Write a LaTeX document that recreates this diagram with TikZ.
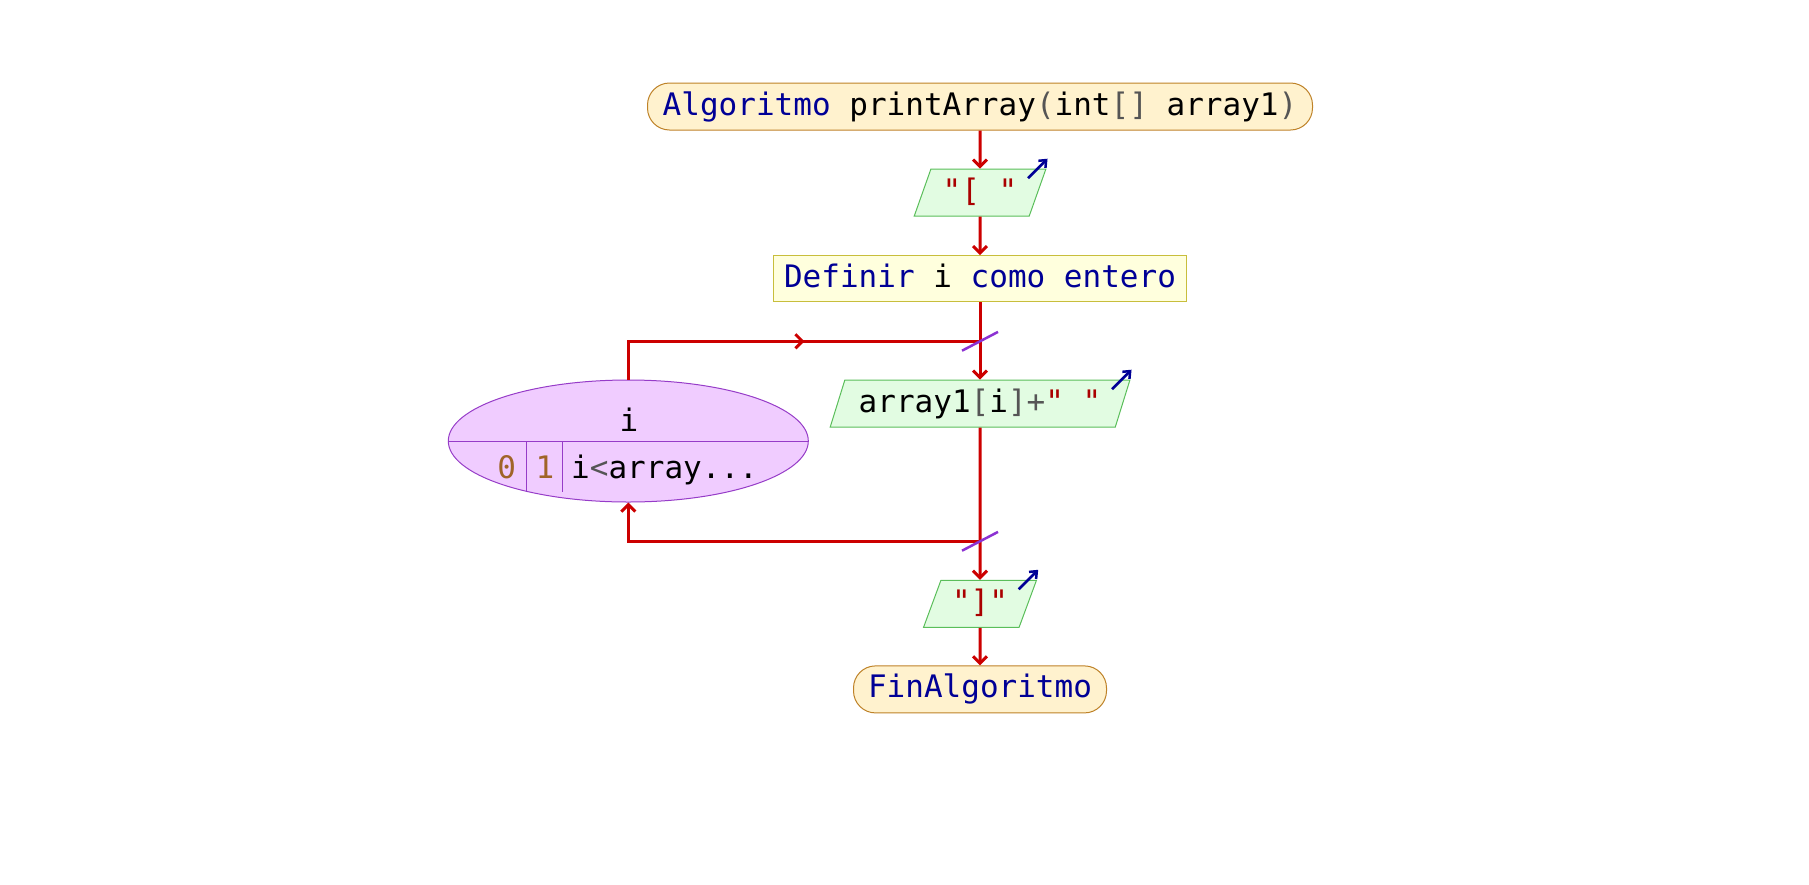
\documentclass[tikz,border=0pt]{standalone}
\usepackage{fontspec}
\setmonofont{DejaVu Sans Mono}
\usetikzlibrary{shapes.geometric,arrows.meta,decorations.markings,calc}

\definecolor{flowred}{RGB}{204,0,0}
\definecolor{termfill}{RGB}{255,242,206}
\definecolor{termline}{RGB}{190,130,40}
\definecolor{outfill}{RGB}{226,252,226}
\definecolor{outline}{RGB}{90,190,90}
\definecolor{deffill}{RGB}{255,255,221}
\definecolor{defline}{RGB}{200,190,60}
\definecolor{loopfill}{RGB}{240,204,255}
\definecolor{loopline}{RGB}{150,60,200}
\definecolor{crosscol}{RGB}{140,50,210}
\definecolor{kwblue}{RGB}{0,0,150}
\definecolor{strred}{RGB}{170,0,0}
\definecolor{opgray}{RGB}{85,85,85}
\definecolor{numbrown}{RGB}{160,100,40}

\newcommand{\kwd}[1]{\textcolor{kwblue}{#1}}
\newcommand{\strg}[1]{\textcolor{strred}{#1}}
\newcommand{\oper}[1]{\textcolor{opgray}{#1}}
\newcommand{\numb}[1]{\textcolor{numbrown}{#1}}

\begin{document}
\begin{tikzpicture}[x=1pt,y=-1pt,
  every node/.style={font=\ttfamily\fontsize{31}{37}\selectfont, text height=23pt, text depth=6pt},
  >={Straight Barb[length=7pt,width=14pt]},
  flow/.style={draw=flowred, line width=3pt},
  term/.style={draw=termline, fill=termfill, line width=1pt, rounded corners=22pt, minimum height=47pt, inner xsep=5pt},
  defbox/.style={draw=defline, fill=deffill, line width=1pt, minimum height=46pt, inner xsep=5pt},
  outbox/.style={trapezium, trapezium left angle=68, trapezium right angle=112, trapezium stretches=true,
    draw=outline, fill=outfill, line width=1pt, minimum height=47pt, inner sep=2pt},
  outarrow/.style={draw=kwblue, line width=2.5pt, -{Straight Barb[length=6pt,width=10pt]}},
  loopnode/.style={ellipse, draw=loopline, fill=loopfill, line width=1pt, minimum width=360pt, minimum height=122pt, inner sep=0pt},
  crossmark/.style={draw=crosscol, line width=2.5pt},
  midarrow/.style={postaction={decorate}, decoration={markings, mark=at position 0.55 with {\arrow[flowred, line width=3pt]{>}}}}]

  \useasboundingbox (0,0) rectangle (1809,884);

  % nodes of the main column
  \node[term, minimum width=665pt] (start) at (980,106.5) {\kwd{Algoritmo} printArray\oper{(}int\oper{[]} array1\oper{)}};
  \node[outbox, minimum width=131.7pt] (out1) at (980,192.7) {\strg{"[~"}};
  \node[defbox, minimum width=413.4pt] (def) at (980,278.7) {\kwd{Definir} i \kwd{como entero}};
  \node[outbox, minimum width=300.7pt] (out2) at (980,403.7) {array1\oper{[}i\oper{]+}\strg{"~"}};
  \node[outbox, minimum width=113.4pt] (out3) at (980,603.8) {\strg{"]"}};
  \node[term, minimum width=253pt] (stop) at (980,689.4) {\kwd{FinAlgoritmo}};

  % the loop
  \node[loopnode] (loop) at (628.3,441) {};
  \draw[draw=loopline, line width=1pt] (loop.west) -- (loop.east);
  \draw[draw=loopline, line width=1pt] (526,441) -- (526,492);
  \draw[draw=loopline, line width=1pt] (562.3,441) -- (562.3,492);
  \node[anchor=base] (var) at (629,431.7) {i};
  \node[anchor=base] (from) at (506.7,478.3) {\numb{0}};
  \node[anchor=base] (inc) at (545,478.3) {\numb{1}};
  \node[anchor=base west, inner xsep=0pt] (cond) at (571,478.3) {i\oper{<}array...};

  \coordinate (xtop) at (980,341.3);
  \coordinate (xbot) at (980,541.3);

  % connectors
  \draw[flow,->] (start) -- (out1);
  \draw[flow,->] (out1) -- (def);
  \draw[flow,->] (def) -- (out2);
  \draw[flow,->] (out2) -- (out3);
  \draw[flow,->] (out3) -- (stop);
  \draw[flow,midarrow] (loop.north) |- (xtop);
  \draw[flow,->] (xbot) -| (loop.south);

  \draw[crossmark] ($(xtop)+(-18,9.4)$) -- ($(xtop)+(18,-9.4)$);
  \draw[crossmark] ($(xbot)+(-18,9.4)$) -- ($(xbot)+(18,-9.4)$);

  % output marks
  \draw[outarrow] ($(out1.top right corner)+(-18.5,9.5)$) -- ($(out1.top right corner)+(1,-10)$);
  \draw[outarrow] ($(out2.top right corner)+(-18.5,9.5)$) -- ($(out2.top right corner)+(1,-10)$);
  \draw[outarrow] ($(out3.top right corner)+(-18.5,9.5)$) -- ($(out3.top right corner)+(1,-10)$);

\end{tikzpicture}
\end{document}
